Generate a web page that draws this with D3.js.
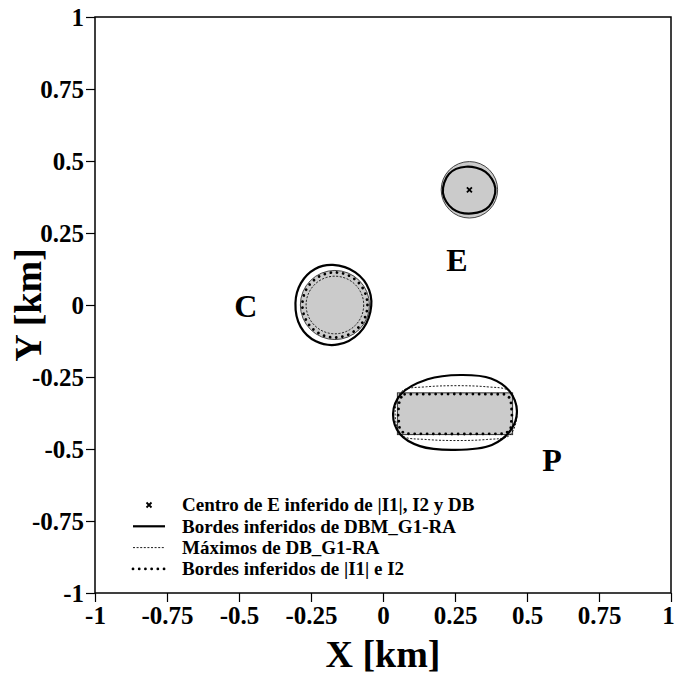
<!DOCTYPE html>
<html>
<head>
<meta charset="utf-8">
<script src="https://cdn.jsdelivr.net/npm/d3@7"></script>
<style>
  html, body { margin: 0; padding: 0; background: #fff; }
  svg text { font-family: "Liberation Serif", "DejaVu Serif", serif; font-weight: bold; fill: #000; }
</style>
</head>
<body>
<svg id="chart" width="676" height="677"></svg>
<script>
// Axis ticks (km)
const xTicks = [-1, -0.75, -0.5, -0.25, 0, 0.25, 0.5, 0.75, 1];
const yTicks = [-1, -0.75, -0.5, -0.25, 0, 0.25, 0.5, 0.75, 1];

// Shaded reference bodies
const discs = [
  { name: "C", cx: -0.167, cy: 0.0, r: 0.12 },
  { name: "E", cx: 0.30, cy: 0.40, r: 0.098 }
];
const rects = [
  { name: "P", x0: 0.05, x1: 0.45, y0: -0.45, y1: -0.305 }
];

// Centre of E inferred from |I1|, I2 and DB
const centreE = [[0.30, 0.40]];

// Borders inferred from DBM_G1-RA (closed contours, km)
const dbmE = [[0.288, 0.480], [0.356, 0.462], [0.390, 0.406], [0.368, 0.342], [0.309, 0.318],
              [0.242, 0.334], [0.208, 0.389], [0.229, 0.455]];
const dbmC = [[-0.174, 0.139], [-0.096, 0.113], [-0.048, 0.052], [-0.044, -0.024], [-0.082, -0.097],
              [-0.156, -0.137], [-0.233, -0.126], [-0.286, -0.076], [-0.304, 0.007], [-0.285, 0.076],
              [-0.236, 0.125]];
const dbmP = [[0.270, -0.243], [0.375, -0.255], [0.440, -0.300], [0.465, -0.368], [0.444, -0.434],
              [0.378, -0.486], [0.250, -0.503], [0.128, -0.490], [0.059, -0.448], [0.035, -0.378],
              [0.062, -0.310], [0.155, -0.258]];

// Maxima of DB_G1-RA
const maxC = { cx: -0.167, cy: 0.0, r: 0.10 };
const maxP = [[0.150, -0.284], [0.360, -0.284], [0.440, -0.300], [0.465, -0.375],
              [0.440, -0.452], [0.360, -0.467], [0.150, -0.467], [0.065, -0.452],
              [0.042, -0.375], [0.065, -0.300]];

// Borders inferred from |I1| and I2
const bordC = { cx: -0.167, cy: 0.0, r: 0.113 };
const bordP = [[0.075, -0.31], [0.26, -0.309], [0.425, -0.31], [0.443, -0.325], [0.448, -0.378],
               [0.443, -0.432], [0.425, -0.447], [0.26, -0.448], [0.075, -0.447], [0.058, -0.432],
               [0.052, -0.378], [0.058, -0.325]];

// Body names
const bodyLabels = [
  { text: "C", x: -0.476, y: -0.042 },
  { text: "E", x: 0.257, y: 0.118 },
  { text: "P", x: 0.587, y: -0.576 }
];

// Legend entries
const legendItems = [
  { label: "Centro de E inferido de |I1|, I2 y DB", kind: "cross" },
  { label: "Bordes inferidos de DBM_G1-RA", kind: "solid" },
  { label: "Máximos de DB_G1-RA", kind: "thin" },
  { label: "Bordes inferidos de |I1| e I2", kind: "dots" }
];

const svg = d3.select("#chart");
const mLeft = 95, mRight = 671, mTop = 17, mBottom = 593;
const x = d3.scaleLinear().domain([-1, 1]).range([mLeft, mRight]);
const y = d3.scaleLinear().domain([-1, 1]).range([mBottom, mTop]);

const styles = {
  solid: { stroke: "#000", width: 2.2, dash: null, cap: "butt" },
  thin:  { stroke: "#000", width: 0.9, dash: "2,1.6", cap: "butt" },
  dots:  { stroke: "#000", width: 2.8, dash: "0.01,6.2", cap: "round" }
};
function applyStyle(sel, kind) {
  const s = styles[kind];
  sel.attr("fill", "none").attr("stroke", s.stroke).attr("stroke-width", s.width)
     .attr("stroke-linecap", s.cap).attr("stroke-linejoin", "round");
  if (s.dash) sel.attr("stroke-dasharray", s.dash);
  return sel;
}

const smooth = d3.line().x(d => x(d[0])).y(d => y(d[1])).curve(d3.curveCatmullRomClosed.alpha(0.5));
const plot = svg.append("g");

// Shaded bodies
plot.selectAll("circle.body").data(discs).join("circle")
  .attr("class", "body")
  .attr("cx", d => x(d.cx)).attr("cy", d => y(d.cy))
  .attr("r", d => x(d.r) - x(0))
  .attr("fill", "#cbcbcb").attr("stroke", "#444").attr("stroke-width", 1);
plot.selectAll("rect.body").data(rects).join("rect")
  .attr("class", "body")
  .attr("x", d => x(d.x0)).attr("y", d => y(d.y1))
  .attr("width", d => x(d.x1) - x(d.x0)).attr("height", d => y(d.y0) - y(d.y1))
  .attr("fill", "#cbcbcb").attr("stroke", "#333").attr("stroke-width", 1);

// Maxima
applyStyle(plot.append("circle").attr("cx", x(maxC.cx)).attr("cy", y(maxC.cy)).attr("r", x(maxC.r) - x(0)), "thin");
applyStyle(plot.append("path").attr("d", smooth(maxP)), "thin");

// Borders from |I1| and I2
applyStyle(plot.append("circle").attr("cx", x(bordC.cx)).attr("cy", y(bordC.cy)).attr("r", x(bordC.r) - x(0)), "dots");
applyStyle(plot.append("path").attr("d", d3.line().x(d => x(d[0])).y(d => y(d[1])).curve(d3.curveLinearClosed)(bordP)), "dots");

// DBM contours
[dbmE, dbmC, dbmP].forEach(c => applyStyle(plot.append("path").attr("d", smooth(c)), "solid"));

// Centre marker
function cross(g, cx, cy, s) {
  g.append("path")
    .attr("d", `M${cx - s},${cy - s}L${cx + s},${cy + s}M${cx - s},${cy + s}L${cx + s},${cy - s}`)
    .attr("stroke", "#000").attr("stroke-width", 1.8).attr("fill", "none");
}
centreE.forEach(d => cross(plot, x(d[0]), y(d[1]), 2.5));

// Body labels
plot.selectAll("text.body").data(bodyLabels).join("text")
  .attr("class", "body")
  .attr("x", d => x(d.x)).attr("y", d => y(d.y))
  .attr("text-anchor", "middle").attr("font-size", 32)
  .text(d => d.text);

// Frame
svg.append("rect").attr("x", mLeft).attr("y", mTop).attr("width", mRight - mLeft).attr("height", mBottom - mTop)
  .attr("fill", "none").attr("stroke", "#000").attr("stroke-width", 1.5);

// Axes (plain hyphen for negative numbers)
const fmt = d => String(d);
const xAxis = svg.append("g").attr("transform", `translate(0,${mBottom})`)
  .call(d3.axisBottom(x).tickValues(xTicks).tickSize(9).tickPadding(4).tickFormat(fmt));
const yAxis = svg.append("g").attr("transform", `translate(${mLeft},0)`)
  .call(d3.axisLeft(y).tickValues(yTicks).tickSize(9).tickPadding(2).tickFormat(fmt));
[xAxis, yAxis].forEach(a => {
  a.select(".domain").remove();
  a.selectAll(".tick line").attr("stroke", "#000").attr("stroke-width", 1.2);
  a.selectAll(".tick text").attr("font-size", 25).attr("font-family", null).attr("fill", "#000");
});
xAxis.selectAll(".tick text").attr("dy", "0.71em");
// keep the last label inside the page edge
xAxis.selectAll(".tick text").filter(d => d === 1).attr("dx", -3);
yAxis.selectAll(".tick text").attr("dy", "0.34em");

// Axis titles
svg.append("text").attr("x", (mLeft + mRight) / 2).attr("y", 667)
  .attr("text-anchor", "middle").attr("font-size", 38).text("X [km]");
svg.append("text").attr("transform", `translate(41,${(mTop + mBottom) / 2}) rotate(-90)`)
  .attr("text-anchor", "middle").attr("font-size", 38).text("Y [km]");

// Legend
const lg = svg.append("g").attr("transform", "translate(133,505)");
legendItems.forEach((d, i) => {
  const row = lg.append("g").attr("transform", `translate(0,${i * 21.3})`);
  if (d.kind === "cross") cross(row, 16, 0, 2.5);
  else applyStyle(row.append("line").attr("x1", 0).attr("x2", 32).attr("y1", 0).attr("y2", 0), d.kind);
  row.append("text").attr("x", 49).attr("y", 0).attr("dy", "0.33em").attr("font-size", 19).text(d.label);
});
</script>
</body>
</html>
